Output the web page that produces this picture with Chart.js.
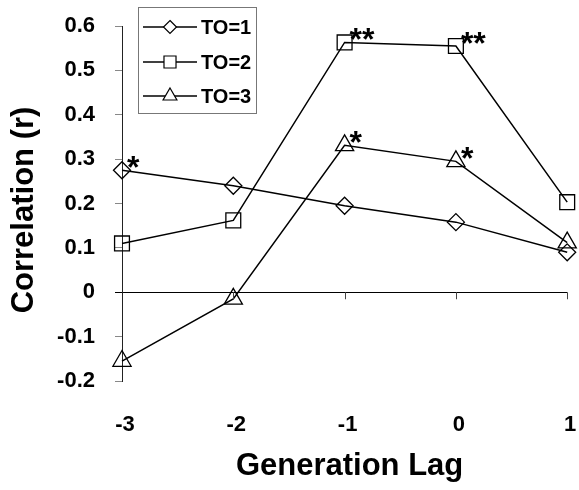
<!DOCTYPE html>
<html><head><meta charset="utf-8">
<style>html,body{margin:0;padding:0;background:#fff;}#wrap{width:579px;height:490px;position:relative;}</style>
<script src="https://cdn.jsdelivr.net/npm/chart.js@4.4.1/dist/chart.umd.min.js"></script>
</head><body><div id="wrap"><canvas id="c" width="579" height="490"></canvas></div>
<script>
// ---- data ----
const lags = [-3, -2, -1, 0, 1];
const yTicks = [-0.2, -0.1, 0, 0.1, 0.2, 0.3, 0.4, 0.5, 0.6];
const seriesNames = ['TO=1', 'TO=2', 'TO=3'];
const to1 = [0.275, 0.24, 0.195, 0.158, 0.09];
const to2 = [0.11, 0.162, 0.563, 0.555, 0.203];
const to3 = [-0.155, -0.015, 0.331, 0.295, 0.112];
const sig1 = ['*', '', '', '', ''];
const sig2 = ['', '', '**', '**', ''];
const sig3 = ['', '', '*', '*', ''];
const xTitle = 'Generation Lag';
const yTitle = 'Correlation (r)';

const FONT = '"Liberation Sans", Arial, Helvetica, sans-serif';
const styles = [
  {pointStyle: 'rectRot', radius: 8.5, lr: 6.5},
  {pointStyle: 'rect', radius: 10.5, lr: 8.5},
  {pointStyle: 'triangle', radius: 10.5, lr: 8}
];
const series = [to1, to2, to3];
const sigs = [sig1, sig2, sig3];

function drawMarker(ctx, style, r, x, y) {
  ctx.beginPath();
  if (style === 'rectRot') {
    ctx.moveTo(x, y - r); ctx.lineTo(x + r, y); ctx.lineTo(x, y + r); ctx.lineTo(x - r, y); ctx.closePath();
  } else if (style === 'rect') {
    const s = r * Math.SQRT1_2; ctx.rect(x - s, y - s, 2 * s, 2 * s);
  } else {
    ctx.moveTo(x, y - r);
    ctx.lineTo(x + r * Math.sin(2 * Math.PI / 3), y - r * Math.cos(2 * Math.PI / 3));
    ctx.lineTo(x + r * Math.sin(4 * Math.PI / 3), y - r * Math.cos(4 * Math.PI / 3));
    ctx.closePath();
  }
  ctx.fillStyle = '#fff'; ctx.fill(); ctx.stroke();
}

const decor = {
  id: 'decor',
  afterDatasetsDraw(chart) {
    const ctx = chart.ctx, xs = chart.scales.x, ys = chart.scales.y;
    const y0 = ys.getPixelForValue(0);
    ctx.save();
    // tick marks on zero line
    ctx.strokeStyle = '#444'; ctx.lineWidth = 1;
    lags.forEach((v, i) => {
      if (i === 0) return;
      const px = Math.round(xs.getPixelForValue(v)) + 0.5;
      ctx.beginPath(); ctx.moveTo(px, y0); ctx.lineTo(px, y0 + 7); ctx.stroke();
    });
    // significance stars
    ctx.fillStyle = '#000';
    ctx.font = 'bold 32px ' + FONT;
    ctx.textAlign = 'left'; ctx.textBaseline = 'alphabetic';
    sigs.forEach((sig, d) => {
      const meta = chart.getDatasetMeta(d);
      sig.forEach((s, i) => {
        if (!s) return;
        const p = meta.data[i];
        ctx.fillText(s, p.x + 5, p.y + 8);
      });
    });
    // axis titles
    ctx.font = 'bold 31px ' + FONT;
    ctx.textAlign = 'center'; ctx.textBaseline = 'middle';
    ctx.fillText(xTitle, (chart.chartArea.left + chart.chartArea.right) / 2 + 5, 466);
    ctx.save();
    ctx.translate(24, (chart.chartArea.top + chart.chartArea.bottom) / 2 + 6.5);
    ctx.rotate(-Math.PI / 2);
    ctx.fillText(yTitle, 0, 0);
    ctx.restore();
    // legend
    ctx.fillStyle = '#fff';
    ctx.fillRect(138.5, 7.5, 118, 106);
    ctx.strokeStyle = '#777'; ctx.lineWidth = 1;
    ctx.strokeRect(138.5, 7.5, 118, 106);
    const rows = [27, 62, 96];
    seriesNames.forEach((name, i) => {
      const ry = rows[i];
      ctx.strokeStyle = '#000'; ctx.lineWidth = 1.4;
      ctx.beginPath(); ctx.moveTo(143, ry); ctx.lineTo(197, ry); ctx.stroke();
      ctx.lineWidth = 1.2;
      drawMarker(ctx, styles[i].pointStyle, styles[i].lr, 170, ry);
      ctx.fillStyle = '#000';
      ctx.font = 'bold 20px ' + FONT;
      ctx.textAlign = 'left'; ctx.textBaseline = 'middle';
      ctx.fillText(name, 201, ry + 1);
    });
    ctx.restore();
  }
};

const datasets = series.map((vals, d) => ({
  label: seriesNames[d],
  data: lags.map((x, i) => ({x: x, y: vals[i]})),
  borderColor: '#000',
  borderWidth: 1.5,
  tension: 0,
  fill: false,
  pointStyle: styles[d].pointStyle,
  pointRadius: styles[d].radius,
  pointBackgroundColor: 'rgba(0,0,0,0)',
  pointBorderColor: '#000',
  pointBorderWidth: 1.3,
  clip: false
}));

new Chart(document.getElementById('c'), {
  type: 'line',
  data: {datasets: datasets},
  plugins: [decor],
  options: {
    responsive: false,
    animation: false,
    devicePixelRatio: 1,
    events: [],
    layout: {padding: {left: 0, right: 5, top: 26, bottom: 0}},
    plugins: {legend: {display: false}, tooltip: {enabled: false}, title: {display: false}},
    scales: {
      x: {
        type: 'linear', min: lags[0], max: lags[lags.length - 1],
        afterBuildTicks: s => { s.ticks = lags.map(v => ({value: v})); },
        afterFit: s => { s.height = 109; s.paddingLeft = 0; s.paddingRight = 0; },
        grid: {display: false, drawTicks: false},
        border: {display: false},
        ticks: {color: '#000', padding: 31, labelOffset: 3, font: {family: FONT, size: 22, weight: 'bold'}, callback: v => String(v), maxRotation: 0},
        title: {display: false}
      },
      y: {
        type: 'linear', min: yTicks[0], max: yTicks[yTicks.length - 1],
        afterBuildTicks: s => { s.ticks = yTicks.map(v => ({value: v})); },
        afterFit: s => { s.width = 122; s.paddingTop = 0; s.paddingBottom = 0; },
        grid: {
          color: c => (c.tick && Math.abs(c.tick.value) < 1e-9) ? '#000' : 'rgba(0,0,0,0)',
          tickColor: c => (c.tick && Math.abs(c.tick.value) < 1e-9) ? '#000' : '#888',
          tickLength: 7, lineWidth: 1, drawTicks: true
        },
        border: {display: true, color: '#222', width: 1},
        ticks: {color: '#000', padding: 20, font: {family: FONT, size: 22, weight: 'bold'},
          callback: v => String(Math.round(v * 10) / 10)},
        title: {display: false}
      }
    }
  }
});
</script></body></html>
